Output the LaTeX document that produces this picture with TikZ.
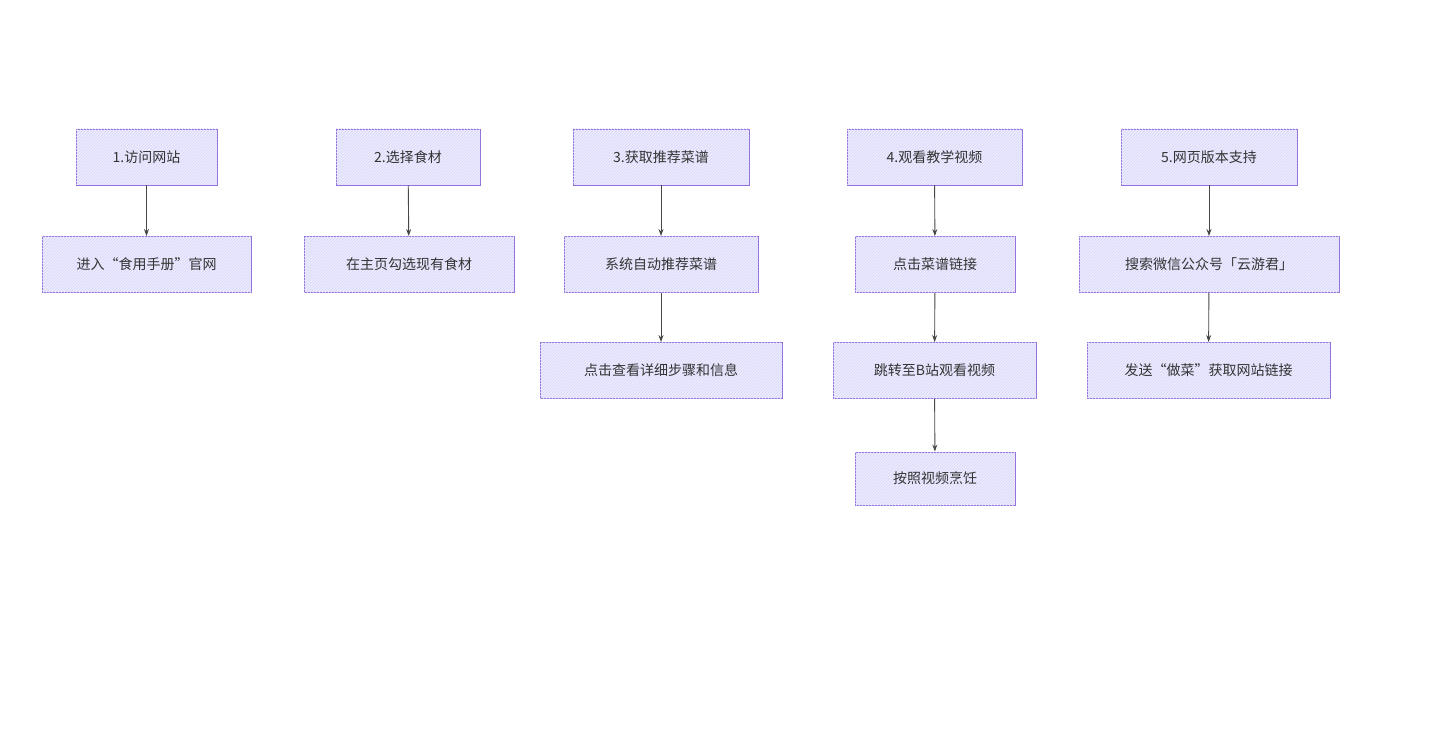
\documentclass[tikz,border=0pt]{standalone}
\usepackage{fontspec}
\setmainfont{Noto Sans CJK SC}
\usetikzlibrary{arrows.meta,patterns}
\definecolor{bfill}{HTML}{ECECFF}
\definecolor{bline}{HTML}{9370DB}
\definecolor{hatch}{HTML}{D8D4FA}
\definecolor{txt}{HTML}{333333}
\begin{document}
\begin{tikzpicture}[x=1pt,y=-1pt,
 box/.style={draw=bline,line width=0.9pt,fill=bfill,minimum height=56pt,inner sep=0pt,font=\fontsize{14}{16}\selectfont,text=txt,
   postaction={pattern=north east lines,pattern color=hatch}},
 arr/.style={draw=txt!90,line width=0.9pt,-{Stealth[length=7pt,width=5pt]}}]
\useasboundingbox (0,0) rectangle (1454,738);
\node[box,minimum width=141pt] (s1) at (146.5,157) {1.访问网站};
\node[box,minimum width=144pt] (s2) at (408,157) {2.选择食材};
\node[box,minimum width=176pt] (s3) at (661,157) {3.获取推荐菜谱};
\node[box,minimum width=175pt] (s4) at (934.5,157) {4.观看教学视频};
\node[box,minimum width=176pt] (s5) at (1209,157) {5.网页版本支持};
\node[box,minimum width=209pt] (a) at (146.5,264.5) {进入“食用手册”官网};
\node[box,minimum width=210pt] (b) at (409,264.5) {在主页勾选现有食材};
\node[box,minimum width=194pt] (c) at (661,264.5) {系统自动推荐菜谱};
\node[box,minimum width=160pt] (d) at (935,264.5) {点击菜谱链接};
\node[box,minimum width=260pt] (e) at (1209,264.5) {搜索微信公众号「云游君」};
\node[box,minimum width=242pt] (c2) at (661,370.5) {点击查看详细步骤和信息};
\node[box,minimum width=203pt] (d2) at (934.5,370.5) {跳转至B站观看视频};
\node[box,minimum width=243pt] (e2) at (1208.5,370.5) {发送“做菜”获取网站链接};
\node[box,minimum width=160pt,minimum height=53pt] (d3) at (935,478.5) {按照视频烹饪};
\draw[arr] (s1) -- (a);
\draw[arr] (s2) -- (b);
\draw[arr] (s3) -- (c);
\draw[arr] (s4) -- (d);
\draw[arr] (s5) -- (e);
\draw[arr] (c) -- (c2);
\draw[arr] (d) -- (d2);
\draw[arr] (d2) -- (d3);
\draw[arr] (e) -- (e2);
\end{tikzpicture}
\end{document}
